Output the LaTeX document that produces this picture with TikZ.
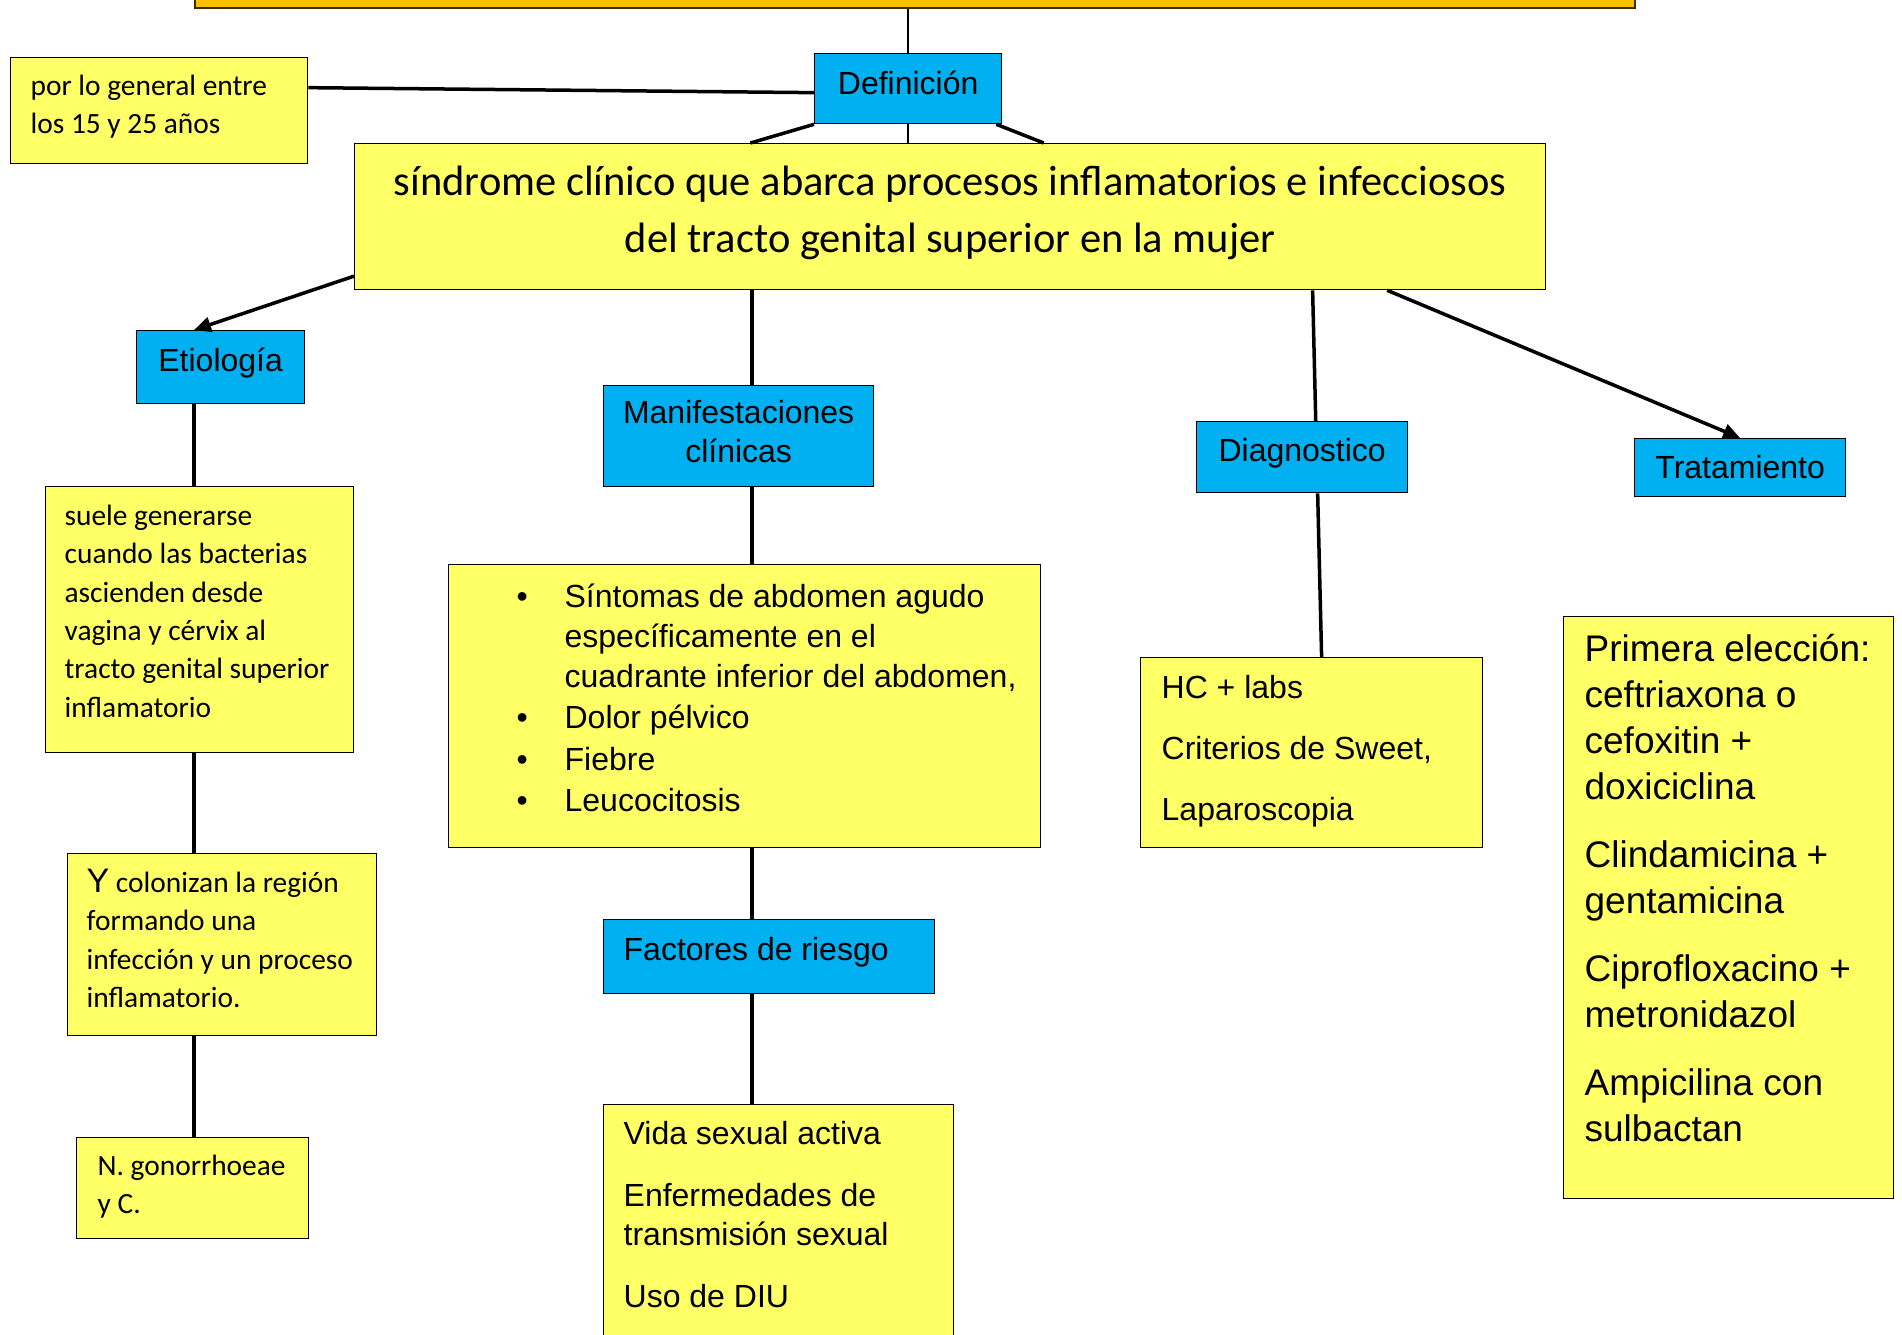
\documentclass[tikz,border=0pt]{standalone}
\usepackage{fontspec}
\setmainfont{Liberation Sans}
\newfontfamily\calibri{Carlito}
\usetikzlibrary{arrows.meta,calc}
\definecolor{azulcaja}{HTML}{00B0F0}
\definecolor{amarillocaja}{HTML}{FFFF66}
\definecolor{naranja}{HTML}{FFC000}
\definecolor{bordenaranja}{HTML}{3A2E00}
\newcommand{\caja}[4]{\parbox[c][#2pt][t]{#1pt}{\raggedright\leftskip=#3pt\relax#4}}
\begin{document}
\begin{tikzpicture}[x=1pt, y=-1pt,
    azul/.style={draw=black, line width=1.3pt, fill=azulcaja, inner xsep=0pt, anchor=north west, font=\fontsize{32}{39}\selectfont},
    amarillo/.style={draw=black, line width=1.3pt, fill=amarillocaja, inner xsep=0pt, anchor=north west},
    chico/.style={font=\calibri\fontsize{29.4}{38.3}\selectfont},
    linea/.style={line width=3.5pt},
    fina/.style={line width=2.5pt},
    flecha/.style={linea, -{Triangle[length=17pt,width=15pt]}}]
  \useasboundingbox (0,0) rectangle (1902,1334);
  \clip (0,0) rectangle (1902,1334);
  \node[draw=bordenaranja, line width=2pt, fill=naranja, inner sep=0pt, anchor=south west,
        minimum width=1440, minimum height=60] (titulo) at (194,9) {};
  \node[azul, inner ysep=17] (definicion) at (814,53) {\caja{187}{36}{0}{\centering Definición}};
  \node[amarillo, chico, inner ysep=17.5] (edad) at (10,57) {\caja{297}{71}{20}{por lo general entre\\los 15 y 25 años}};
  \node[amarillo, inner ysep=22.5, font=\calibri\fontsize{42.5}{57}\selectfont] (principal) at (354,143)
    {\caja{1191}{101}{0}{\centering síndrome clínico que abarca procesos inflamatorios e infecciosos\\del tracto genital superior en la mujer}};
  \node[azul, inner ysep=17] (etiologia) at (136,330) {\caja{168}{39}{0}{\centering Etiología}};
  \node[azul, inner ysep=15] (manifest) at (603,385) {\caja{270}{71}{0}{\centering Manifestaciones\\clínicas}};
  \node[azul, inner ysep=17] (diagnostico) at (1196,421) {\caja{211}{37}{0}{\centering Diagnostico}};
  \node[azul, inner ysep=17] (tratamiento) at (1634,438) {\caja{211}{24}{0}{\centering Tratamiento}};
  \node[amarillo, chico, inner ysep=18.5] (causa) at (45,486)
    {\caja{308}{229}{19}{suele generarse\\cuando las bacterias\\ascienden desde\\vagina y cérvix al\\tracto genital superior\\inflamatorio}};
  \node[amarillo, chico, inner ysep=15.5] (coloniza) at (67,853)
    {\caja{309}{151}{19}{{\rmfamily\fontsize{34}{38.3}\selectfont Y} colonizan la región\\formando una\\infección y un proceso\\inflamatorio.}};
  \node[amarillo, chico, inner ysep=17] (agente) at (76,1137) {\caja{232}{67}{21}{N. gonorrhoeae\\y C.}};
  \node[amarillo, inner ysep=19, font=\fontsize{32}{40}\selectfont] (sintomas) at (448,564)
    {\caja{592}{245}{68}{\makebox[48pt][l]{•}Síntomas de abdomen agudo\\
      \hspace*{48pt}específicamente en el\\
      \hspace*{48pt}cuadrante inferior del abdomen,\\[1.5pt]
      \makebox[48pt][l]{•}Dolor pélvico\\[1.5pt]
      \makebox[48pt][l]{•}Fiebre\\[1.5pt]
      \makebox[48pt][l]{•}Leucocitosis}};
  \node[azul, inner ysep=17.5] (factores) at (603,919) {\caja{331}{39}{20}{Factores de riesgo}};
  \node[amarillo, inner ysep=17, font=\fontsize{32}{39}\selectfont] (riesgos) at (603,1104)
    {\caja{350}{226}{20}{Vida sexual activa\\[23pt]Enfermedades de\\transmisión sexual\\[23pt]Uso de DIU}};
  \node[amarillo, inner ysep=17.5, font=\fontsize{32}{61}\selectfont] (pruebas) at (1140,657)
    {\caja{342}{155}{21}{HC + labs\\Criterios de Sweet,\\Laparoscopia}};
  \node[amarillo, inner ysep=18, font=\fontsize{37}{46}\selectfont] (antibioticos) at (1563,616)
    {\caja{330}{546}{21}{Primera elección:\\ceftriaxona o\\cefoxitin +\\doxiciclina\\[22pt]Clindamicina +\\gentamicina\\[22pt]Ciprofloxacino +\\metronidazol\\[22pt]Ampicilina con\\sulbactan}};
  \coordinate (ejeizq) at (194,0);
  \coordinate (ejecen) at (752,0);
  \draw[fina] (definicion.north) -- (definicion.north |- titulo.south);
  \draw[linea] ([yshift=-4pt]definicion.west) -- ([yshift=23pt]edad.east);
  \draw[linea] (definicion.south west) -- ($(principal.north west)!0.3325!(principal.north east)$);
  \draw[fina] (definicion.south) -- (definicion.south |- principal.north);
  \draw[linea] ([xshift=-6pt]definicion.south east) -- ($(principal.north west)!0.5785!(principal.north east)$);
  \draw[flecha] ($(principal.north west)!0.904!(principal.south west)$) -- (ejeizq |- etiologia.north);
  \foreach \a/\b in {etiologia/causa, causa/coloniza, coloniza/agente}
    \draw[linea] (ejeizq |- \a.south) -- (ejeizq |- \b.north);
  \foreach \a/\b in {principal/manifest, manifest/sintomas, sintomas/factores, factores/riesgos}
    \draw[linea] (ejecen |- \a.south) -- (ejecen |- \b.north);
  \draw[linea] ($(principal.south west)!0.804!(principal.south east)$) -- ($(diagnostico.north west)!0.564!(diagnostico.north east)$);
  \draw[linea] ($(diagnostico.south west)!0.573!(diagnostico.south east)$) -- ($(pruebas.north west)!0.529!(pruebas.north east)$);
  \draw[flecha] ($(principal.south west)!0.8665!(principal.south east)$) -- (tratamiento.north);
\end{tikzpicture}
\end{document}
